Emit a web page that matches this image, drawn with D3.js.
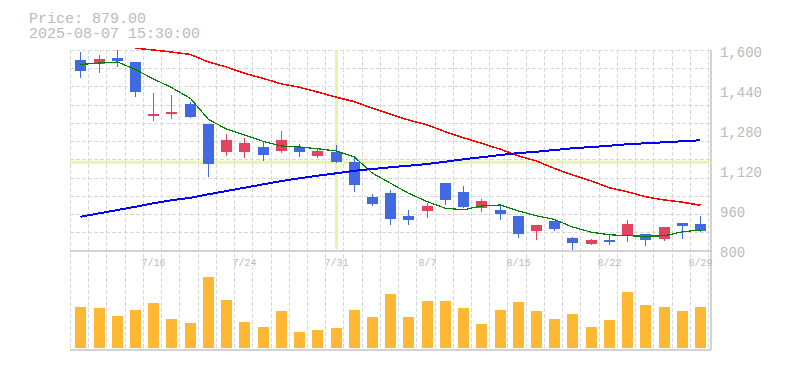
<!DOCTYPE html>
<html><head><meta charset="utf-8">
<script src="https://cdn.jsdelivr.net/npm/d3@7"></script>
<style>
html,body{margin:0;padding:0;background:#fff;}
svg{display:block;}
text{font-family:"Liberation Mono",monospace;fill:#bbb;}
</style></head><body>
<svg id="c" width="785" height="370"></svg>
<script>
const dates=["7/10","7/11","7/14","7/15","7/16","7/17","7/18","7/22","7/23","7/24","7/25","7/28","7/29","7/30","7/31","8/1","8/4","8/5","8/6","8/7","8/8","8/12","8/13","8/14","8/15","8/18","8/19","8/20","8/21","8/22","8/25","8/26","8/27","8/28","8/29"];
const open =[1564,1549,1572,1556,1341,1348,1388,1308,1196,1196,1216,1200,1216,1180,1196,1156,1016,1032,940,960,1072,1036,972,964,940,880,920,852,828,844,860,868,848,912,908];
const high =[1597,1584,1604,1556,1431,1424,1395,1308,1268,1252,1240,1280,1228,1212,1224,1176,1028,1044,964,992,1072,1060,1008,988,940,904,920,856,848,868,924,868,896,912,940];
const low  =[1493,1513,1537,1417,1321,1328,1333,1096,1180,1172,1160,1192,1176,1172,1152,1036,980,904,904,932,984,972,956,924,852,844,880,804,824,824,836,820,840,848,876];
const close=[1521,1568,1561,1437,1348,1356,1336,1149,1244,1232,1184,1244,1196,1200,1155,1064,988,928,924,980,1004,976,1000,948,868,904,888,832,844,836,908,844,896,900,879];
const volume=[410,400,320,380,450,290,250,710,480,260,210,370,160,180,200,380,310,540,310,470,470,400,240,380,460,370,290,340,210,280,560,430,410,370,410];
const maShort=[1546,1552,1556,1526,1488,1454,1410,1326,1288,1264,1238,1220,1216,1209,1200,1176,1111,1071,1031,997,971,965,980,984,960,941,926,896,875,865,861,859,861,877,884];
const maMid=[null,null,null,1611,1604,1596,1586,1556,1536,1511,1490,1468,1455,1436,1415,1397,1371,1347,1324,1304,1277,1253,1231,1207,1180,1160,1130,1104,1080,1053,1037,1017,1004,995,983];
const maLong=[937,951,964,977,991,1003,1013,1027,1040,1053,1067,1080,1091,1101,1111,1121,1128,1135,1141,1148,1157,1167,1175,1184,1192,1197,1204,1211,1216,1221,1227,1231,1235,1239,1243];
const priceTicks=[800,960,1120,1280,1440,1600];
const dateTicks=["7/16","7/24","7/31","8/7","8/15","8/22","8/29"];
const infoLines=["Price: 879.00","2025-08-07 15:30:00"];
const crossIndex=14;

const svg=d3.select("#c");
const L=70,R=711,T=50,PB=251,VB=350;
const x=d3.scaleBand().domain(d3.range(dates.length)).range([71.2,709.2]).padding(0);
const step=x.step();
const cx=i=>Math.round(x(i)+step/2)+0.5;
const y=d3.scaleLinear().domain([800,1600]).range([251,51]);
const yv=d3.scaleLinear().domain([0,1000]).range([348,248]);

const g=svg.append("g");
// grid
for(let k=0;k<=35;k++){
  const gx=Math.round(L+k*step)+0.5;
  g.append("line").attr("x1",gx).attr("x2",gx).attr("y1",T).attr("y2",VB)
   .attr("stroke","#d9d9d9").attr("stroke-dasharray","4,2").attr("shape-rendering","crispEdges");
}
for(let k=0;k<=10;k++){
  const gy=Math.round(T+k*step)+0.5;
  g.append("line").attr("x1",L).attr("x2",R).attr("y1",gy).attr("y2",gy)
   .attr("stroke","#d9d9d9").attr("stroke-dasharray","4,2").attr("shape-rendering","crispEdges");
}
// axes lines
g.append("line").attr("x1",L).attr("x2",R).attr("y1",PB).attr("y2",PB).attr("stroke","#c4c4c4").attr("stroke-width",1.5);
g.append("line").attr("x1",L).attr("x2",R).attr("y1",VB).attr("y2",VB).attr("stroke","#c4c4c4").attr("stroke-width",1.5);
g.append("line").attr("x1",R).attr("x2",R).attr("y1",T).attr("y2",VB).attr("stroke","#c4c4c4").attr("stroke-width",1.5);

// crosshair
g.append("line").attr("x1",cx(crossIndex)).attr("x2",cx(crossIndex)).attr("y1",T).attr("y2",PB-2)
 .attr("stroke","#e6f5aa").attr("stroke-width",3);
g.append("line").attr("x1",L).attr("x2",R).attr("y1",y(close[crossIndex])).attr("y2",y(close[crossIndex]))
 .attr("stroke","#e6f5aa").attr("stroke-width",3);

// volume
g.selectAll("rect.v").data(volume).join("rect").attr("class","v")
 .attr("x",(d,i)=>cx(i)-6).attr("width",11)
 .attr("y",d=>yv(d)).attr("height",d=>yv(0)-yv(d))
 .attr("fill","#ffb833").attr("shape-rendering","crispEdges");

// candles
const up="#e2445f",dn="#4169e1";
const idx=d3.range(dates.length);
g.selectAll("line.w").data(idx).join("line").attr("class","w")
 .attr("x1",i=>cx(i)).attr("x2",i=>cx(i)).attr("y1",i=>y(high[i])).attr("y2",i=>y(low[i]))
 .attr("stroke",i=>close[i]>=open[i]?up:dn).attr("stroke-width",1.2).attr("shape-rendering","crispEdges");
g.selectAll("rect.b").data(idx).join("rect").attr("class","b")
 .attr("x",i=>cx(i)-6).attr("width",11)
 .attr("y",i=>y(Math.max(open[i],close[i])))
 .attr("height",i=>Math.max(1,Math.abs(y(open[i])-y(close[i]))))
 .attr("fill",i=>close[i]>=open[i]?up:dn).attr("shape-rendering","crispEdges");

// moving averages
function drawLine(arr,color,w){
  const line=d3.line().defined(d=>d!=null).x((d,i)=>cx(i)).y(d=>y(d));
  g.append("path").datum(arr).attr("d",line).attr("fill","none").attr("stroke",color)
   .attr("stroke-width",w).attr("shape-rendering","crispEdges");
}
drawLine(maShort,"#008000",1.2);
drawLine(maMid,"#ff0000",1.5);
drawLine(maLong,"#0000ff",2);

// price labels
g.selectAll("text.p").data(priceTicks).join("text").attr("class","p")
 .attr("x",720).attr("y",d=>y(d)+6.3).attr("font-size","14px").text(d=>d3.format(",")(d));
// date labels
g.selectAll("text.d").data(dateTicks).join("text").attr("class","d")
 .attr("x",d=>cx(dates.indexOf(d))).attr("y",266).attr("text-anchor","middle").attr("font-size","10px").text(d=>d);
// info
g.selectAll("text.i").data(infoLines).join("text").attr("class","i")
 .attr("x",29).attr("y",(d,i)=>22.7+15*i).attr("font-size","15px").text(d=>d);
</script>
</body></html>
